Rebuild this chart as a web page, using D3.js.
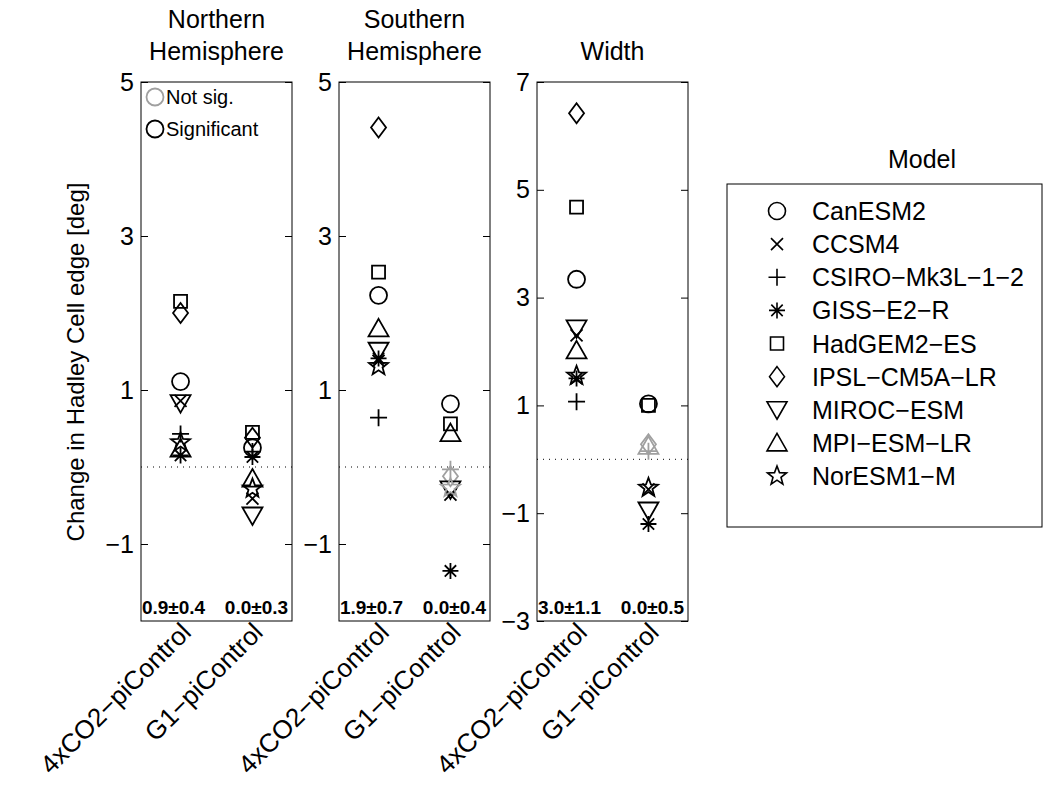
<!DOCTYPE html>
<html>
<head>
<meta charset="utf-8">
<script src="https://cdn.jsdelivr.net/npm/d3@7"></script>
<style>
  body { margin: 0; background: #fff; }
  text { font-family: "Liberation Sans", Arial, sans-serif; fill: #000; }
</style>
</head>
<body>
<svg id="chart" width="1045" height="793"></svg>
<script>
// Models and their marker shapes
const models = ["CanESM2", "CCSM4", "CSIRO\u2212Mk3L\u22121\u22122", "GISS\u2212E2\u2212R", "HadGEM2\u2212ES",
  "IPSL\u2212CM5A\u2212LR", "MIROC\u2212ESM", "MPI\u2212ESM\u2212LR", "NorESM1\u2212M"];
const markers = ["circle", "x", "plus", "asterisk", "square", "diamond", "triDown", "triUp", "star"];

const experiments = ["4xCO2\u2212piControl", "G1\u2212piControl"];
const panelTitles = [["Northern", "Hemisphere"], ["Southern", "Hemisphere"], ["", "Width"]];
const panelDomains = [[-2, 5], [-2, 5], [-3, 7]];
const panelTicks = [[-1, 1, 3, 5], [-1, 1, 3, 5], [-3, -1, 1, 3, 5, 7]];

// Change in Hadley cell edge [deg], per model (order as in models)
const nh4x = [1.11, 0.86, 0.43, 0.15, 2.15, 2.0, 0.83, 0.24, 0.32];
const nhG1 = [0.25, -0.41, 0.2, 0.13, 0.45, 0.38, -0.63, -0.15, -0.28];
const sh4x = [2.23, 1.38, 0.64, 1.41, 2.53, 4.41, 1.51, 1.8, 1.31];
const shG1 = [0.82, -0.36, -0.03, -1.35, 0.56, -0.12, -0.29, 0.44, -0.27];
const wd4x = [3.34, 2.3, 1.07, 1.5, 4.68, 6.42, 2.43, 2.02, 1.55];
const wdG1 = [1.03, -0.56, 0.15, -1.2, 1.0, 0.28, -0.95, 0.25, -0.53];

// Significance flags (1 = significant)
const nh4xSig = [1, 1, 1, 1, 1, 1, 1, 1, 1];
const nhG1Sig = [1, 1, 1, 1, 1, 1, 1, 1, 1];
const sh4xSig = [1, 1, 1, 1, 1, 1, 1, 1, 1];
const shG1Sig = [1, 1, 0, 1, 1, 0, 1, 1, 0];
const wd4xSig = [1, 1, 1, 1, 1, 1, 1, 1, 1];
const wdG1Sig = [1, 1, 0, 1, 1, 0, 1, 0, 1];

// Multi-model mean +- spread labels
const statLabels = [["0.9\u00b10.4", "0.0\u00b10.3"], ["1.9\u00b10.7", "0.0\u00b10.4"], ["3.0\u00b11.1", "0.0\u00b10.5"]];

const panelValues = [[nh4x, nhG1], [sh4x, shG1], [wd4x, wdG1]];
const panelSig = [[nh4xSig, nhG1Sig], [sh4xSig, shG1Sig], [wd4xSig, wdG1Sig]];

/*** Marker shapes ***/
function markerPath(type) {
  const p = d3.path();
  switch (type) {
    case "circle":
      p.moveTo(8.5, 0); p.arc(0, 0, 8.5, 0, 2 * Math.PI); break;
    case "x":
      p.moveTo(-6, -6); p.lineTo(6, 6); p.moveTo(-6, 6); p.lineTo(6, -6); break;
    case "plus":
      p.moveTo(-8.5, 0); p.lineTo(8.5, 0); p.moveTo(0, -8.5); p.lineTo(0, 8.5); break;
    case "asterisk":
      p.moveTo(-8, 0); p.lineTo(8, 0); p.moveTo(0, -8); p.lineTo(0, 8);
      p.moveTo(-5.7, -5.7); p.lineTo(5.7, 5.7); p.moveTo(-5.7, 5.7); p.lineTo(5.7, -5.7); break;
    case "square":
      p.rect(-6.5, -6.5, 13, 13); break;
    case "diamond":
      p.moveTo(0, -10); p.lineTo(7.5, 0); p.lineTo(0, 10); p.lineTo(-7.5, 0); p.closePath(); break;
    case "triUp":
      p.moveTo(0, -9.5); p.lineTo(10, 8); p.lineTo(-10, 8); p.closePath(); break;
    case "triDown":
      p.moveTo(0, 9.5); p.lineTo(10, -8); p.lineTo(-10, -8); p.closePath(); break;
    case "star": {
      for (let k = 0; k < 10; k++) {
        const r = k % 2 ? 4.2 : 10;
        const a = -Math.PI / 2 + k * Math.PI / 5;
        if (k === 0) p.moveTo(r * Math.cos(a), r * Math.sin(a));
        else p.lineTo(r * Math.cos(a), r * Math.sin(a));
      }
      p.closePath(); break;
    }
  }
  return p.toString();
}

/*** Layout ***/
const svg = d3.select("#chart");
const plotTop = 82, plotBottom = 621, panelW = 151;
const panelLeft = [141, 339, 537];
const grey = "#a0a0a0";
const statShift = [-7, 4];

panelLeft.forEach((left, pi) => {
  const x = d3.scaleLinear().domain([0.45, 2.55]).range([left, left + panelW]);
  const y = d3.scaleLinear().domain(panelDomains[pi]).range([plotBottom, plotTop]);
  const g = svg.append("g");

  // Title
  panelTitles[pi].forEach((t, li) => {
    g.append("text")
      .attr("x", left + panelW / 2)
      .attr("y", 28 + li * 32)
      .attr("text-anchor", "middle")
      .attr("font-size", 25)
      .text(t);
  });

  // Zero line
  g.append("line")
    .attr("x1", left).attr("x2", left + panelW)
    .attr("y1", y(0)).attr("y2", y(0))
    .attr("stroke", "#000").attr("stroke-width", 1)
    .attr("stroke-dasharray", "1,5");

  // Y axis (left, inward ticks) and right ticks
  const yAxis = d3.axisLeft(y).tickValues(panelTicks[pi]).tickSize(-7).tickPadding(7)
    .tickFormat(d => d < 0 ? "\u2212" + Math.abs(d) : d);
  const ax = g.append("g").attr("transform", `translate(${left},0)`).call(yAxis);
  ax.select(".domain").remove();
  ax.selectAll("text").attr("font-size", 25).attr("font-family", "Liberation Sans, Arial, sans-serif");
  const axR = g.append("g").attr("transform", `translate(${left + panelW},0)`)
    .call(d3.axisRight(y).tickValues(panelTicks[pi]).tickSize(-7).tickFormat(""));
  axR.select(".domain").remove();

  // Box
  g.append("rect")
    .attr("x", left).attr("y", plotTop)
    .attr("width", panelW).attr("height", plotBottom - plotTop)
    .attr("fill", "none").attr("stroke", "#000").attr("stroke-width", 1);

  // Markers
  experiments.forEach((ex, ei) => {
    const vals = panelValues[pi][ei];
    const sig = panelSig[pi][ei];
    g.append("g")
      .selectAll("path")
      .data(vals)
      .join("path")
        .attr("transform", d => `translate(${x(ei + 1)},${y(d)})`)
        .attr("d", (d, i) => markerPath(markers[i]))
        .attr("fill", "none")
        .attr("stroke", (d, i) => sig[i] ? "#000" : grey)
        .attr("stroke-width", 1.8);

    // Mean +- spread label
    g.append("text")
      .attr("x", x(ei + 1) + statShift[ei])
      .attr("y", 614)
      .attr("text-anchor", "middle")
      .attr("font-size", 19)
      .attr("font-weight", "bold")
      .text(statLabels[pi][ei]);

    // Rotated category labels
    g.append("text")
      .attr("transform", `translate(${x(ei + 1) + 12},${634}) rotate(-45)`)
      .attr("text-anchor", "end")
      .attr("font-size", 26)
      .text(ex);
  });
});

// Significance key inside first panel
[["Not sig.", grey], ["Significant", "#000"]].forEach(([t, c], i) => {
  svg.append("path")
    .attr("transform", `translate(155,${97 + i * 32})`)
    .attr("d", markerPath("circle"))
    .attr("fill", "none").attr("stroke", c).attr("stroke-width", 1.8);
  svg.append("text")
    .attr("x", 166).attr("y", 104 + i * 32)
    .attr("font-size", 20)
    .text(t);
});

// Y label
svg.append("text")
  .attr("transform", `translate(84,362) rotate(-90)`)
  .attr("text-anchor", "middle")
  .attr("font-size", 24)
  .text("Change in Hadley Cell edge [deg]");

/*** Model legend ***/
const legend = svg.append("g");
legend.append("text")
  .attr("x", 922).attr("y", 168)
  .attr("text-anchor", "middle")
  .attr("font-size", 25)
  .text("Model");
legend.append("rect")
  .attr("x", 727).attr("y", 184)
  .attr("width", 315).attr("height", 343)
  .attr("fill", "#fff").attr("stroke", "#000").attr("stroke-width", 1);
const rowY = d3.scalePoint().domain(models).range([211, 476]);
const rows = legend.selectAll(".row")
  .data(models)
  .join("g")
    .attr("class", "row")
    .attr("transform", d => `translate(0,${rowY(d)})`);
rows.append("path")
  .attr("transform", "translate(777,0)")
  .attr("d", (d, i) => markerPath(markers[i]))
  .attr("fill", "none").attr("stroke", "#000").attr("stroke-width", 1.6);
rows.append("text")
  .attr("x", 812).attr("y", 9)
  .attr("font-size", 25)
  .text(d => d);
</script>
</body>
</html>
